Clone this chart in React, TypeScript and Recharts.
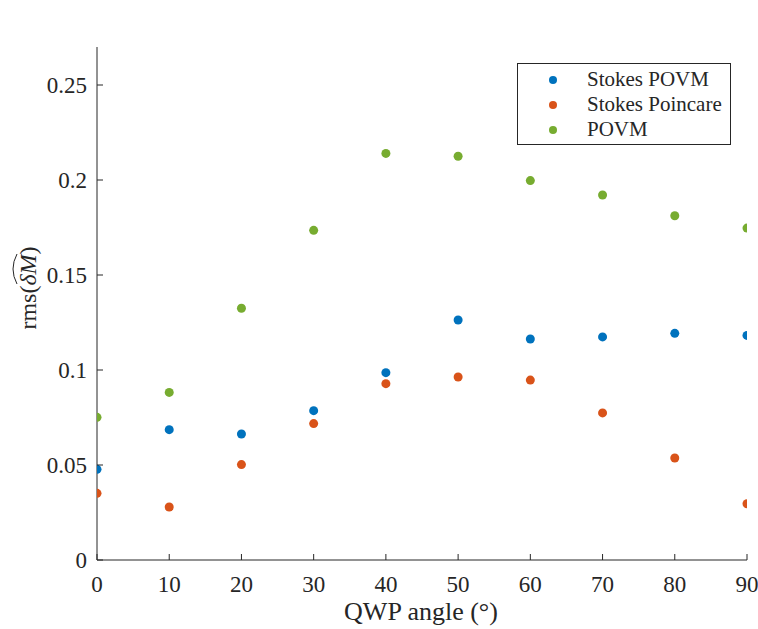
import React from 'react'
import { ScatterChart, Scatter, XAxis, YAxis } from 'recharts'

const angles = [0, 10, 20, 30, 40, 50, 60, 70, 80, 90]
const stokesPovm = [0.0477, 0.0686, 0.0663, 0.0786, 0.0986, 0.1263, 0.1163, 0.1174, 0.1193, 0.1182]
const stokesPoincare = [0.0351, 0.0279, 0.0502, 0.0718, 0.0928, 0.0963, 0.0947, 0.0774, 0.0537, 0.0296]
const povm = [0.0751, 0.0882, 0.1325, 0.1735, 0.214, 0.2125, 0.1997, 0.1921, 0.1812, 0.1747]

const xTicks = [0, 10, 20, 30, 40, 50, 60, 70, 80, 90]
const yTicks = [0, 0.05, 0.1, 0.15, 0.2, 0.25]

const series = [
  { name: 'Stokes POVM', values: stokesPovm, color: '#0072BD' },
  { name: 'Stokes Poincare', values: stokesPoincare, color: '#D95319' },
  { name: 'POVM', values: povm, color: '#77AC30' },
]

const FONT = '"Liberation Serif", "Times New Roman", serif'
const INK = '#262626'

const dot = (color) => (props) => <circle cx={props.cx} cy={props.cy} r={4.5} fill={color} />

const BottomTick = ({ x, y, payload }) => (
  <g>
    <line x1={x} x2={x} y1={y} y2={y - 6} stroke={INK} />
    <text x={x} y={y + 32} textAnchor="middle" style={{ fontFamily: FONT, fontSize: 23 }} fill={INK}>{payload.value}</text>
  </g>
)

const TopTick = ({ x, y }) => <line x1={x} x2={x} y1={y} y2={y + 6} stroke={INK} />

const LeftTick = ({ x, y, payload }) => (
  <g>
    <line x1={x} x2={x + 6} y1={y} y2={y} stroke={INK} />
    <text x={x - 10} y={y + 8} textAnchor="end" style={{ fontFamily: FONT, fontSize: 23 }} fill={INK}>{payload.value}</text>
  </g>
)

const RightTick = ({ x, y }) => <line x1={x} x2={x - 6} y1={y} y2={y} stroke={INK} />

// y label with a hat over deltaM, drawn in rotated frame
const YLabel = () => (
  <g transform="translate(36,288) rotate(-90)">
    <text textAnchor="middle" style={{ fontFamily: FONT, fontSize: 24 }} fill={INK}>
      rms(<tspan fontStyle="italic">δM</tspan>)
    </text>
    <path d="M 4 -19 Q 19 -27 34 -19" fill="none" stroke={INK} strokeWidth={1} />
  </g>
)

const XLabel = () => (
  <text x={421} y={620} textAnchor="middle" style={{ fontFamily: FONT, fontSize: 26 }} fill={INK}>QWP angle (°)</text>
)

export default function App() {
  return (
    <div style={{ position: 'absolute', left: 0, top: 0, width: 758, height: 629, background: '#fff' }}>
      <ScatterChart width={758} height={629} margin={{ top: 47, right: 11, bottom: 0, left: 0 }}>
        <XAxis
          xAxisId="b"
          type="number"
          dataKey="x"
          domain={[0, 90]}
          ticks={xTicks}
          height={69}
          tickLine={false}
          tickSize={0}
          tickMargin={0}
          tick={BottomTick}
          stroke={INK}
          allowDataOverflow
          label={{ content: XLabel }}
        />
        <XAxis
          xAxisId="t"
          orientation="top"
          type="number"
          domain={[0, 90]}
          ticks={xTicks}
          height={0}
          tickLine={false}
          tickSize={0}
          tickMargin={0}
          tick={TopTick}
          stroke={INK}
          allowDataOverflow
        />
        <YAxis
          yAxisId="l"
          type="number"
          dataKey="y"
          domain={[0, 0.27]}
          ticks={yTicks}
          width={97}
          tickLine={false}
          tickSize={0}
          tickMargin={0}
          tick={LeftTick}
          stroke={INK}
          allowDataOverflow
          label={{ content: YLabel }}
        />
        <YAxis
          yAxisId="r"
          orientation="right"
          type="number"
          domain={[0, 0.27]}
          ticks={yTicks}
          width={0}
          tickLine={false}
          tickSize={0}
          tickMargin={0}
          tick={RightTick}
          stroke={INK}
          allowDataOverflow
        />
        {series.map((s) => (
          <Scatter
            key={s.name}
            name={s.name}
            xAxisId="b"
            yAxisId="l"
            data={angles.map((a, i) => ({ x: a, y: s.values[i] }))}
            shape={dot(s.color)}
            isAnimationActive={false}
          />
        ))}
      </ScatterChart>
      <div
        style={{
          position: 'absolute',
          left: 517,
          top: 63,
          width: 212,
          height: 80,
          border: `1px solid ${INK}`,
          background: '#fff',
          fontFamily: FONT,
          fontSize: 21,
          color: INK,
          boxSizing: 'content-box',
        }}
      >
        {series.map((s, i) => (
          <div key={s.name} style={{ position: 'absolute', left: 0, top: 3 + i * 25, height: 25, display: 'flex', alignItems: 'center' }}>
            <span style={{ display: 'inline-block', width: 8, height: 8, borderRadius: 4, background: s.color, marginLeft: 31 }} />
            <span style={{ marginLeft: 30, whiteSpace: 'nowrap' }}>{s.name}</span>
          </div>
        ))}
      </div>
    </div>
  )
}
